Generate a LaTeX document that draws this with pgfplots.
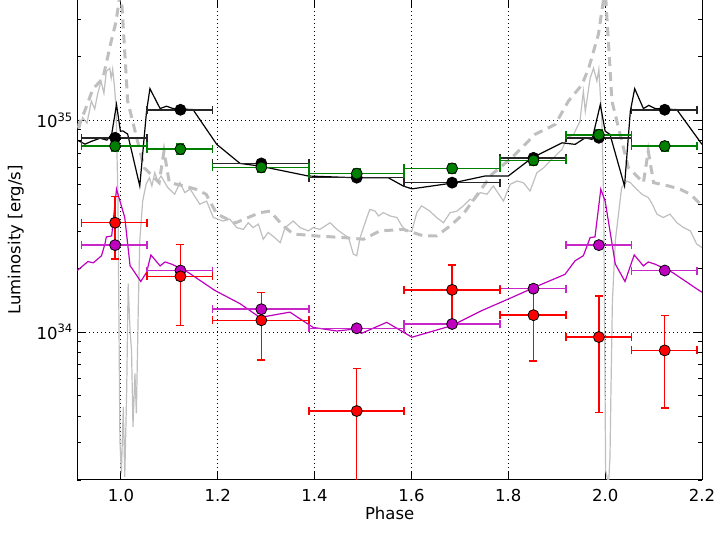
\documentclass[border=0pt]{standalone}
\usepackage{pgfplots}
\pgfplotsset{compat=1.18}
\usepackage{fontspec}
\setmainfont{DejaVu Sans}
\definecolor{mpgray}{gray}{0.75}
\definecolor{mpmag}{RGB}{191,0,191}
\definecolor{mpgreen}{RGB}{0,128,0}
\begin{document}
\begin{tikzpicture}
\useasboundingbox (0,0) rectangle (715pt,533pt);
\begin{axis}[
  at={(77.3pt,53pt)}, anchor=south west,
  scale only axis, width=624.7pt, height=480pt,
  xmin=0.91, xmax=2.2, ymode=log, ymin=2e33, ymax=3.7e35,
  xtick={1,1.2,1.4,1.6,1.8,2,2.2},
  xticklabels={1.0,1.2,1.4,1.6,1.8,2.0,2.2},
  ytick={1e34,1e35},
  yticklabels={10\textsuperscript{34},10\textsuperscript{35}},
  minor ytick={2e33,3e33,4e33,5e33,6e33,7e33,8e33,9e33,2e34,3e34,4e34,5e34,6e34,7e34,8e34,9e34,2e35,3e35},
  grid=major,
  major grid style={black, dash pattern=on 1pt off 3pt, line width=0.8pt},
  minor grid style={draw=none},
  tick align=inside, tick pos=both,
  major tick length=8pt, minor tick length=4pt,
  every tick/.style={black, line width=0.8pt},
  axis line style={line width=0.9pt},
  tick label style={font=\fontsize{16.5}{19}\selectfont},
  label style={font=\fontsize{16.5}{19}\selectfont},
  xlabel={Phase}, ylabel={Luminosity [erg/s]},
  xticklabel style={yshift=-6pt},
  yticklabel style={xshift=-1pt},
  xlabel style={at={(axis description cs:0.5,0)}, anchor=north, yshift=-24pt},
  ylabel style={at={(axis description cs:0,0.5)}, anchor=south, yshift=50pt},
]
% observed light curve (gray solid)
\addplot[mpgray, line width=1.2pt] table {
0.910 9.37e34
0.915 9.2e34
0.921 1.03e35
0.930 9.68e34
0.939 1.23e35
0.946 1.13e35
0.952 1.33e35
0.959 1.53e35
0.965 1.34e35
0.970 1.70e35
0.977 1.76e35
0.980 1.58e35
0.983 1.74e35
0.987 1.42e35
0.990 1.14e35
0.994 4.15e34
0.998 3.08e33
1.001 2.15e33
1.005 4.42e33
1.008 2.07e33
1.012 5.29e33
1.015 1.69e34
1.019 1.01e34
1.022 8.17e33
1.025 3.56e33
1.029 6.37e33
1.032 4.12e33
1.036 1.31e34
1.039 2.69e34
1.045 4.15e34
1.052 4.98e34
1.059 5.35e34
1.064 4.89e34
1.070 5.65e34
1.076 5.16e34
1.083 5.45e34
1.097 4.80e34
1.111 4.47e34
1.122 5.07e34
1.132 4.55e34
1.143 4.73e34
1.163 4.01e34
1.177 4.15e34
1.191 3.47e34
1.211 3.34e34
1.225 3.41e34
1.239 3.11e34
1.253 3.05e34
1.263 3.28e34
1.273 3.11e34
1.284 3.23e34
1.294 2.74e34
1.304 2.95e34
1.316 2.81e34
1.329 2.64e34
1.339 3.11e34
1.356 3.34e34
1.370 3.11e34
1.387 3.00e34
1.397 3.11e34
1.411 3.05e34
1.432 3.28e34
1.446 3.05e34
1.459 2.90e34
1.470 2.79e34
1.480 2.33e34
1.487 2.29e34
1.494 2.79e34
1.508 3.47e34
1.514 3.79e34
1.525 3.72e34
1.532 3.53e34
1.542 3.66e34
1.556 3.53e34
1.570 3.47e34
1.580 3.17e34
1.590 3.00e34
1.601 3.00e34
1.611 3.66e34
1.621 3.94e34
1.638 3.72e34
1.652 3.47e34
1.666 3.28e34
1.680 3.66e34
1.694 3.72e34
1.707 3.94e34
1.721 4.23e34
1.728 4.15e34
1.742 4.55e34
1.756 4.47e34
1.769 4.89e34
1.790 4.15e34
1.804 4.98e34
1.818 5.16e34
1.831 5.07e34
1.845 4.63e34
1.859 5.65e34
1.873 5.96e34
1.886 6.41e34
1.900 6.89e34
1.911 7.28e34
1.921 8.26e34
1.935 8.57e34
1.948 9.89e34
1.955 1.37e35
1.959 1.10e35
1.969 1.58e35
1.976 1.76e35
1.983 1.53e35
1.987 1.74e35
1.990 1.32e35
1.993 1.03e35
1.997 4.15e34
2.001 2.22e33
2.007 1.9e33
2.010 2.56e33
2.012 5.29e33
2.015 1.40e34
2.021 2.69e34
2.034 4.80e34
2.045 5.16e34
2.052 5.07e34
2.062 4.80e34
2.076 4.47e34
2.089 4.31e34
2.096 4.07e34
2.107 3.60e34
2.120 3.47e34
2.134 3.60e34
2.148 3.28e34
2.162 3.11e34
2.176 3.00e34
2.189 2.60e34
2.200 2.50e34
};
% model (gray dashed)
\addplot[mpgray, line width=3pt, dash pattern=on 9pt off 6pt] table {
0.910 9.17e34
0.925 1.10e35
0.942 1.40e35
0.963 1.58e35
0.980 2.36e35
0.990 2.92e35
1.000 4.2e35
1.010 1.76e35
1.014 1.23e35
1.048 5.96e34
1.069 5.35e34
1.079 5.07e34
1.089 7.14e34
1.100 5.07e34
1.131 4.89e34
1.155 4.72e34
1.176 4.47e34
1.198 3.61e34
1.236 3.27e34
1.287 3.66e34
1.308 3.72e34
1.335 3.17e34
1.356 2.90e34
1.404 2.84e34
1.459 2.79e34
1.501 2.74e34
1.535 3.00e34
1.583 3.05e34
1.625 2.84e34
1.652 2.84e34
1.680 3.17e34
1.707 3.60e34
1.766 5.55e34
1.807 6.64e34
1.855 8.57e34
1.897 9.55e34
1.924 1.23e35
1.952 1.47e35
1.966 1.76e35
1.986 2.54e35
2.000 4.2e35
2.010 1.76e35
2.014 1.23e35
2.048 5.96e34
2.069 5.35e34
2.079 5.07e34
2.089 7.14e34
2.100 5.07e34
2.131 4.89e34
2.155 4.72e34
2.176 4.47e34
2.200 3.94e34
};
% black model line
\addplot[black, line width=1.2pt] table {
0.910 8.05e34
0.926 7.71e34
0.940 7.96e34
0.957 8.22e34
0.971 8.05e34
0.981 8.59e34
0.991 1.186e35
0.999 8.87e34
1.004 8.9e34
1.014 8.6e34
1.039 4.89e34
1.053 1.102e35
1.060 1.409e35
1.081 1.135e35
1.094 1.164e35
1.108 1.135e35
1.149 1.122e35
1.198 7.69e34
1.246 6.25e34
1.287 6.07e34
1.387 5.45e34
1.483 5.35e34
1.552 5.35e34
1.583 4.89e34
1.601 4.74e34
1.683 5.04e34
1.752 5.45e34
1.800 5.45e34
1.849 6.64e34
1.911 7.82e34
1.938 7.69e34
1.959 8.26e34
1.973 8.11e34
1.990 1.186e35
2.000 8.87e34
2.010 8.57e34
2.040 4.89e34
2.052 1.102e35
2.061 1.409e35
2.079 1.135e35
2.090 1.175e35
2.103 1.135e35
2.148 1.122e35
2.200 7.69e34
};
% magenta model line
\addplot[mpmag, line width=1.2pt] table {
0.910 1.95e34
0.932 2.15e34
0.943 2.12e34
0.960 2.29e34
0.967 2.60e34
0.970 2.81e34
0.981 2.84e34
0.991 4.72e34
1.008 3.47e34
1.019 2.05e34
1.022 2.01e34
1.041 1.73e34
1.053 1.91e34
1.062 2.31e34
1.081 2.05e34
1.091 2.14e34
1.105 2.09e34
1.139 1.91e34
1.194 1.57e34
1.246 1.36e34
1.287 1.17e34
1.349 1.24e34
1.397 1.05e34
1.446 1.01e34
1.480 1.03e34
1.497 9.85e33
1.549 1.11e34
1.601 9.44e33
1.683 1.07e34
1.745 1.26e34
1.800 1.43e34
1.869 1.68e34
1.917 1.87e34
1.938 2.17e34
1.955 2.29e34
1.969 2.79e34
1.979 2.81e34
1.991 4.72e34
2.000 4.15e34
2.021 2.09e34
2.041 1.73e34
2.060 2.31e34
2.079 2.05e34
2.089 2.14e34
2.103 2.09e34
2.139 1.91e34
2.194 1.57e34
2.200 1.54e34
};
% black points
\addplot[black, only marks, mark=*, mark size=5.5pt,
  mark options={draw=black, fill=black, line width=0.8pt},
  error bars/.cd, x dir=both, x explicit,
  error bar style={black!85, line width=1.5pt},
  error mark options={rotate=90, black!85, line width=1.5pt, mark size=4pt}]
table[x=x, y=y, x error minus=xm, x error plus=xp] {
x y xm xp
0.988 8.26e34 0.069 0.066
1.123 1.12e35 0.069 0.066
1.290 6.25e34 0.101 0.098
1.487 5.35e34 0.099 0.098
1.684 5.07e34 0.099 0.099
1.852 6.64e34 0.069 0.067
1.987 8.26e34 0.068 0.067
2.123 1.12e35 0.069 0.067
};
% green points
\addplot[mpgreen, only marks, mark=*, mark size=5.5pt,
  mark options={draw=black, fill=mpgreen, line width=0.8pt},
  error bars/.cd, x dir=both, x explicit, y dir=both, y explicit,
  error bar style={mpgreen, line width=1.5pt},
  error mark options={rotate=90, mpgreen, line width=1.5pt, mark size=4pt}]
table[x=x, y=y, x error minus=xm, x error plus=xp, y error=ye] {
x y xm xp ye
0.988 7.55e34 0.069 0.066 0.4e34
1.123 7.30e34 0.069 0.066 0.4e34
1.290 5.99e34 0.101 0.098 0.3e34
1.487 5.59e34 0.099 0.098 0.3e34
1.684 5.92e34 0.099 0.099 0.3e34
1.852 6.46e34 0.069 0.067 0.35e34
1.987 8.53e34 0.068 0.067 0.45e34
2.123 7.55e34 0.069 0.067 0.4e34
};
% magenta points
\addplot[mpmag, only marks, mark=*, mark size=5.5pt,
  mark options={draw=black, fill=mpmag, line width=0.8pt},
  error bars/.cd, x dir=both, x explicit,
  error bar style={mpmag!85!white, line width=1.5pt},
  error mark options={rotate=90, mpmag!85!white, line width=1.5pt, mark size=4pt}]
table[x=x, y=y, x error minus=xm, x error plus=xp] {
x y xm xp
0.988 2.57e34 0.069 0.066
1.123 1.95e34 0.069 0.066
1.290 1.28e34 0.101 0.098
1.487 1.04e34 0.099 0.098
1.684 1.09e34 0.099 0.099
1.852 1.60e34 0.069 0.067
1.987 2.57e34 0.068 0.067
2.123 1.95e34 0.069 0.067
};
% red points
\addplot[red, only marks, mark=*, mark size=5.5pt,
  mark options={draw=black, fill=red, line width=0.8pt},
  error bars/.cd, x dir=both, x explicit, y dir=both, y explicit,
  error bar style={red, line width=1.5pt},
  error mark options={rotate=90, red, line width=1.5pt, mark size=4pt}]
table[x=x, y=y, x error minus=xm, x error plus=xp, y error=ye] {
x y xm xp ye
0.988 3.28e34 0.069 0.066 1.07e34
1.123 1.83e34 0.069 0.066 0.755e34
1.290 1.135e34 0.101 0.098 0.40e34
1.487 4.23e33 0.099 0.098 2.5e33
1.684 1.58e34 0.099 0.099 0.49e34
1.852 1.20e34 0.069 0.067 0.47e34
1.987 9.46e33 0.068 0.067 5.3e33
2.123 8.18e33 0.069 0.067 3.8e33
};
\end{axis}
\end{tikzpicture}
\end{document}
